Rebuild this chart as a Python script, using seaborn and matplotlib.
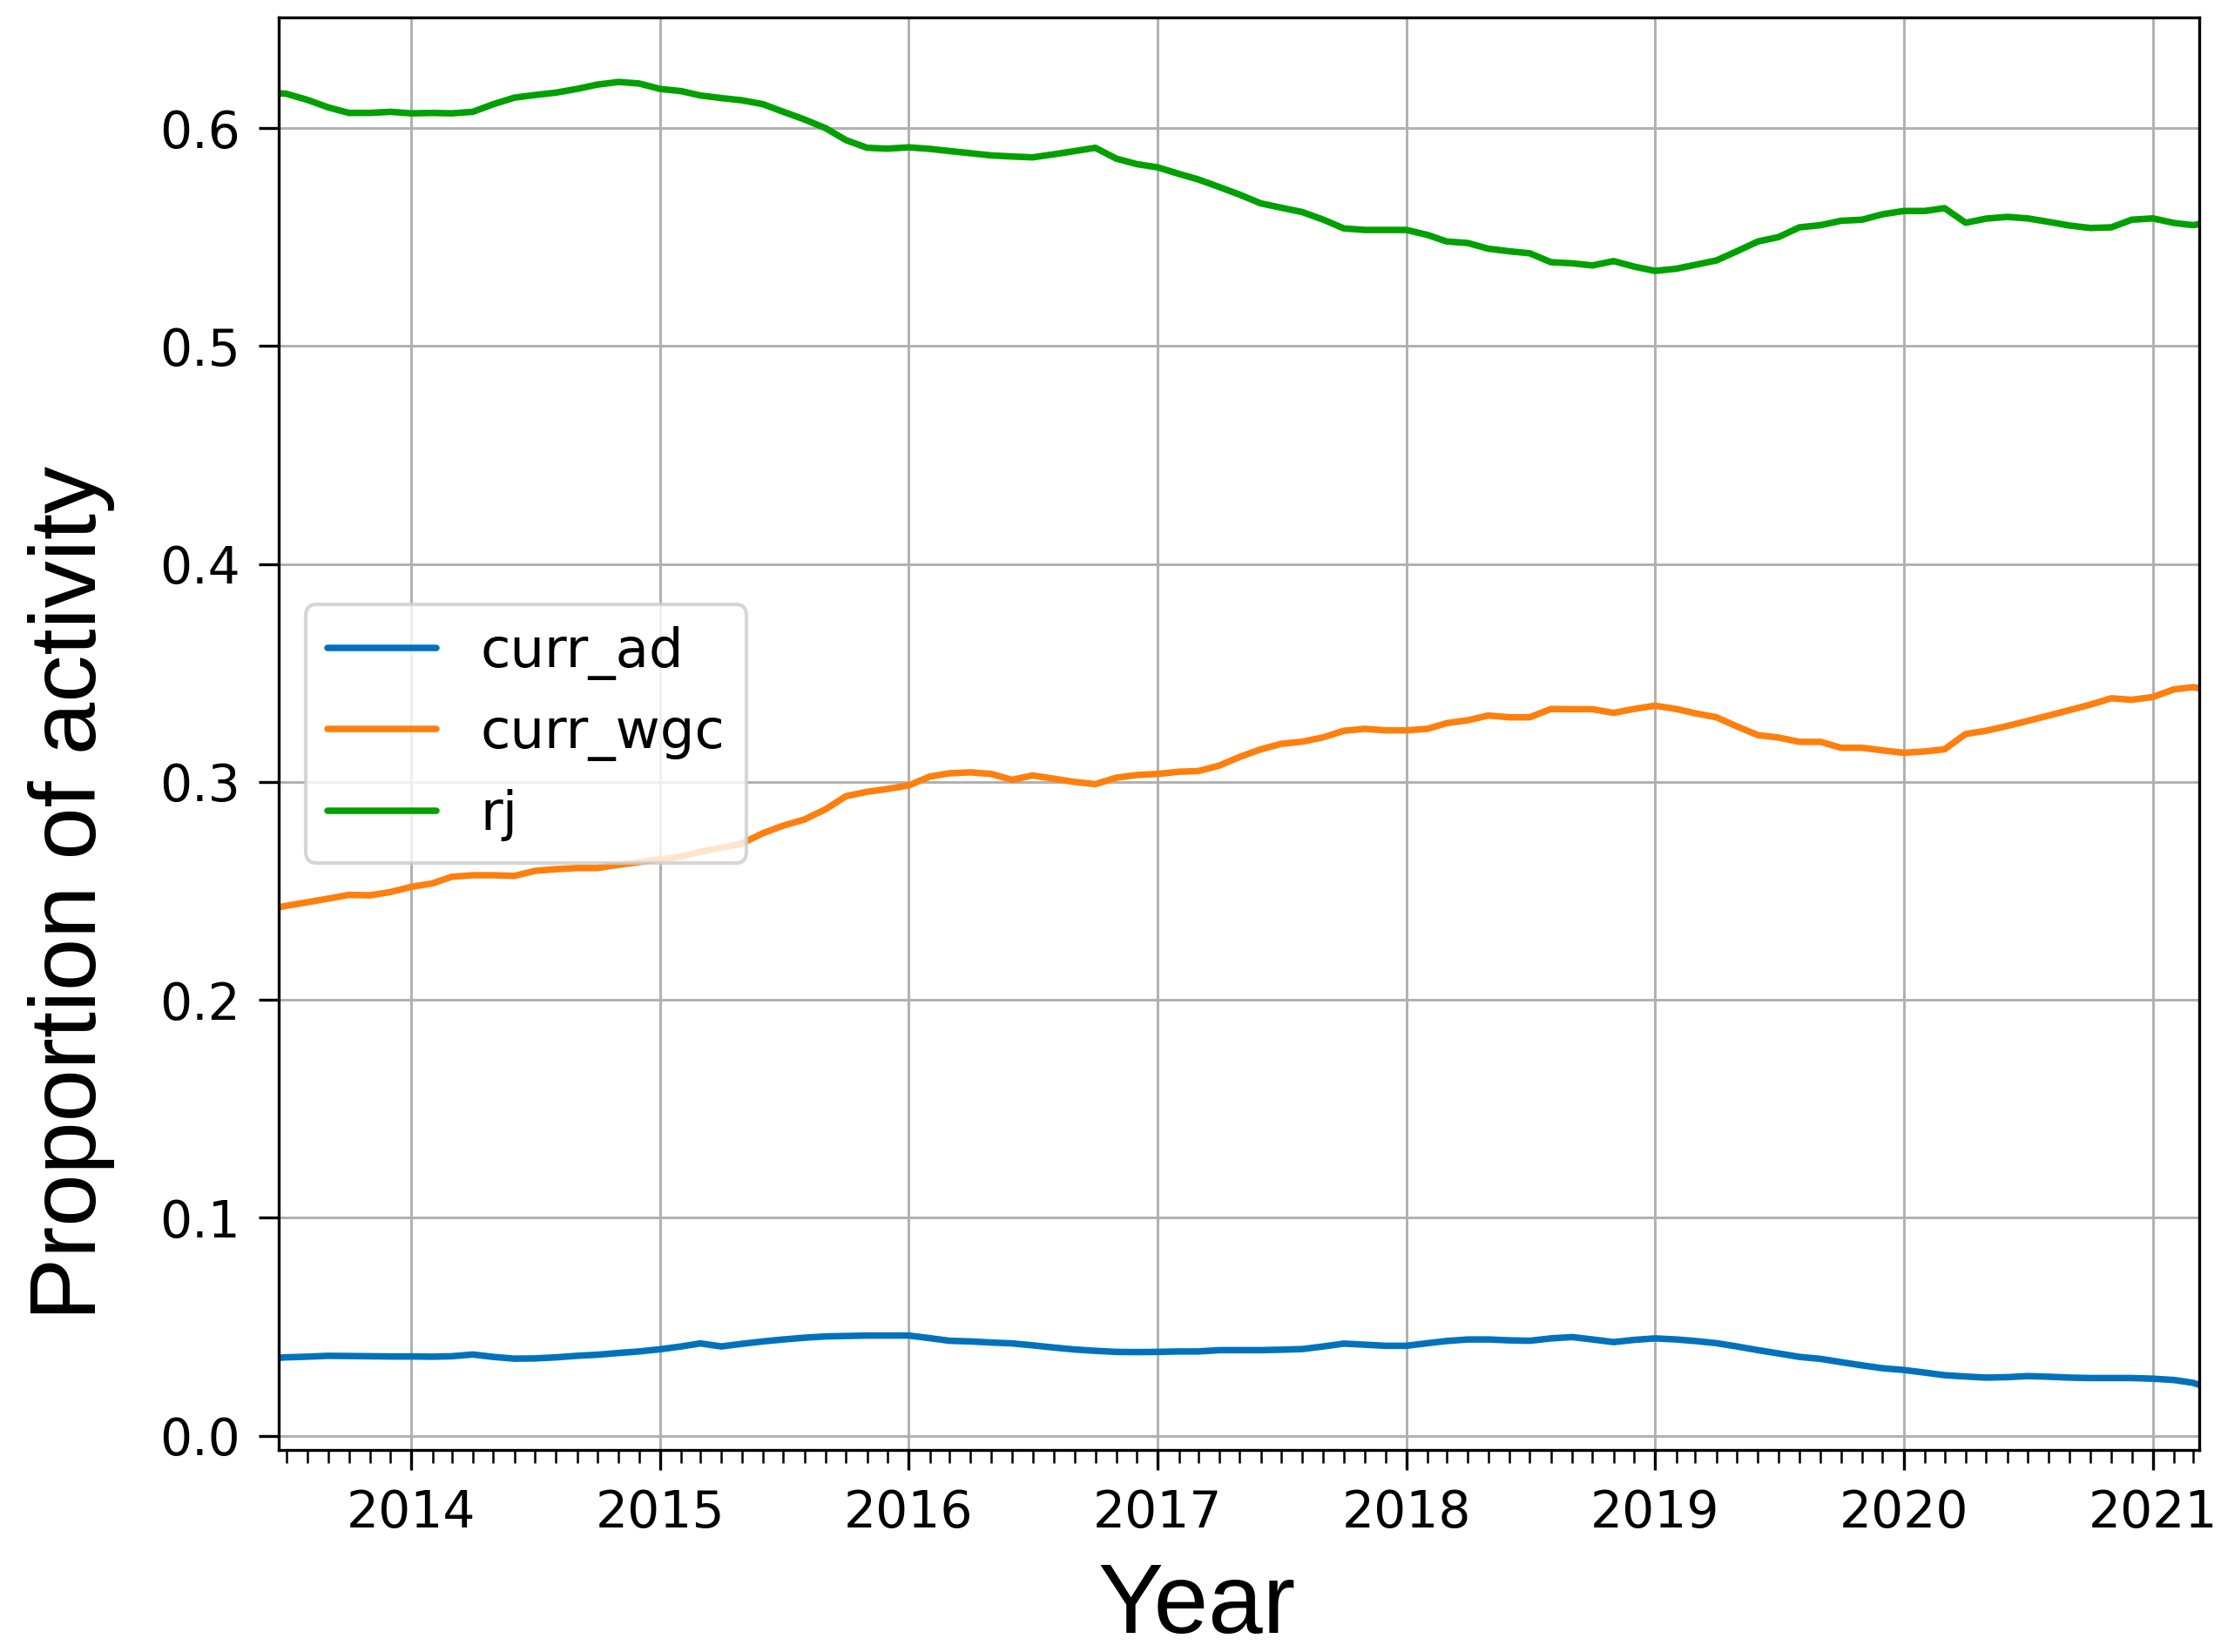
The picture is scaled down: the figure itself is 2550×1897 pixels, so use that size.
import numpy as np
import pandas as pd
import seaborn as sns
import matplotlib
matplotlib.use("Agg")
from matplotlib import pyplot as plt
import matplotlib.dates as mdates

# dates: first sample, monthly samples, last sample
dates = ([pd.Timestamp("2013-06-20")]
         + list(pd.date_range("2013-07-01", "2021-03-01", freq="MS"))
         + [pd.Timestamp("2021-03-10")])

# values, one row per year
curr_ad = [
    0.0358, 0.0360, 0.0363, 0.0367, 0.0366, 0.0365, 0.0364,                  # 2013
    0.0364, 0.0363, 0.0365, 0.0373, 0.0362, 0.0354, 0.0355, 0.0360, 0.0367, 0.0372, 0.0380, 0.0387,
    0.0397, 0.0410, 0.0424, 0.0410, 0.0422, 0.0433, 0.0442, 0.0450, 0.0456, 0.0458, 0.0460, 0.0460,
    0.0460, 0.0448, 0.0436, 0.0433, 0.0428, 0.0424, 0.0415, 0.0405, 0.0396, 0.0390, 0.0385, 0.0384,
    0.0385, 0.0387, 0.0387, 0.0393, 0.0393, 0.0393, 0.0395, 0.0398, 0.0410, 0.0423, 0.0418, 0.0413,
    0.0413, 0.0425, 0.0435, 0.0442, 0.0442, 0.0438, 0.0436, 0.0447, 0.0453, 0.0442, 0.0430, 0.0440,
    0.0447, 0.0442, 0.0435, 0.0425, 0.0410, 0.0393, 0.0378, 0.0362, 0.0353, 0.0338, 0.0323, 0.0310,
    0.0302, 0.0290, 0.0278, 0.0272, 0.0267, 0.0269, 0.0274, 0.0271, 0.0267, 0.0265, 0.0265, 0.0265,
    0.0262, 0.0256, 0.0243, 0.0234,                                          # 2021
]
curr_wgc = [
    0.2425, 0.2432, 0.2448, 0.2465, 0.2482, 0.2480, 0.2495,
    0.2519, 0.2535, 0.2565, 0.2572, 0.2572, 0.2569, 0.2592, 0.2600, 0.2605, 0.2605, 0.2620, 0.2632,
    0.2645, 0.2658, 0.2680, 0.2698, 0.2718, 0.2765, 0.2800, 0.2828, 0.2875, 0.2935, 0.2955, 0.2968,
    0.2984, 0.3025, 0.3040, 0.3044, 0.3037, 0.3010, 0.3030, 0.3015, 0.3000, 0.2990, 0.3020, 0.3032,
    0.3037, 0.3047, 0.3050, 0.3075, 0.3115, 0.3150, 0.3175, 0.3185, 0.3205, 0.3235, 0.3244, 0.3237,
    0.3237, 0.3244, 0.3270, 0.3283, 0.3305, 0.3297, 0.3297, 0.3335, 0.3334, 0.3334, 0.3317, 0.3335,
    0.3350, 0.3335, 0.3315, 0.3297, 0.3255, 0.3215, 0.3204, 0.3184, 0.3184, 0.3157, 0.3157, 0.3145,
    0.3134, 0.3140, 0.3150, 0.3220, 0.3235, 0.3257, 0.3280, 0.3305, 0.3330, 0.3355, 0.3384, 0.3377,
    0.3390, 0.3425, 0.3435, 0.3430,
]
rj = [
    0.6160, 0.6158, 0.6130, 0.6095, 0.6070, 0.6070, 0.6075,
    0.6068, 0.6070, 0.6068, 0.6075, 0.6110, 0.6140, 0.6152, 0.6163, 0.6180, 0.6200, 0.6212, 0.6205,
    0.6180, 0.6170, 0.6150, 0.6138, 0.6128, 0.6110, 0.6075, 0.6040, 0.6000, 0.5945, 0.5910, 0.5906,
    0.5912, 0.5905, 0.5895, 0.5885, 0.5875, 0.5870, 0.5866, 0.5880, 0.5895, 0.5910, 0.5860, 0.5835,
    0.5820, 0.5790, 0.5765, 0.5730, 0.5695, 0.5655, 0.5635, 0.5615, 0.5580, 0.5540, 0.5533, 0.5533,
    0.5533, 0.5510, 0.5480, 0.5473, 0.5447, 0.5435, 0.5426, 0.5385, 0.5380, 0.5370, 0.5390, 0.5365,
    0.5345, 0.5355, 0.5373, 0.5393, 0.5435, 0.5480, 0.5500, 0.5545, 0.5555, 0.5575, 0.5580, 0.5605,
    0.5620, 0.5620, 0.5633, 0.5566, 0.5585, 0.5593, 0.5586, 0.5570, 0.5553, 0.5542, 0.5545, 0.5580,
    0.5586, 0.5565, 0.5555, 0.5560,
]
series_names = ["curr_ad", "curr_wgc", "rj"]
colors = ["#0072bd", "#ff7f0e", "#00a000"]

assert len(dates) == len(curr_ad) == len(curr_wgc) == len(rj)

df = pd.DataFrame({"date": dates, "curr_ad": curr_ad,
                   "curr_wgc": curr_wgc, "rj": rj})
long_df = df.melt(id_vars="date", var_name="series", value_name="value")

sns.set_style("ticks")
plt.rcParams["font.family"] = ["DejaVu Sans"]
plt.rcParams.update({"text.color": "black", "axes.labelcolor": "black",
                     "xtick.color": "black", "ytick.color": "black"})

fig = plt.figure(figsize=(8.5, 1897 / 300), dpi=300)
ax = fig.add_axes([0.1255, 0.1223, 0.8647, 0.8674])

sns.lineplot(data=long_df, x="date", y="value", hue="series",
             hue_order=series_names, palette=dict(zip(series_names, colors)),
             linewidth=1.8, ax=ax)

ax.set_xlim(dates[0], dates[-1])
ax.set_ylim(-0.0065, 0.651)
ax.set_yticks(np.arange(0, 0.61, 0.1))
ax.yaxis.set_major_formatter(matplotlib.ticker.FormatStrFormatter("%.1f"))
ax.xaxis.set_major_locator(mdates.YearLocator())
ax.xaxis.set_minor_locator(mdates.MonthLocator())
ax.xaxis.set_major_formatter(mdates.DateFormatter("%Y"))

ax.grid(True, which="major", color="#b0b0b0", linewidth=0.7)
for s in ax.spines.values():
    s.set_visible(True)
    s.set_color("black")
    s.set_linewidth(0.8)
ax.tick_params(axis="both", which="major", labelsize=14, length=5.5,
               width=0.8, color="black", labelcolor="black", pad=5,
               direction="out")
ax.tick_params(axis="x", which="minor", length=3.5, width=0.6,
               color="black", direction="out")

ax.set_xlabel("Year", fontsize=27, family=["Liberation Sans", "DejaVu Sans"])
ax.xaxis.set_label_coords(0.478, -0.110)
ax.xaxis.label.set_va("center")
ax.set_ylabel("Proportion of activity", fontsize=26,
              family=["Liberation Sans", "DejaVu Sans"])
ax.yaxis.set_label_coords(-0.108, 0.389)
ax.yaxis.label.set_va("center")

sns.move_legend(ax, "center left", title=None, fontsize=15,
                frameon=True, framealpha=0.8, edgecolor="#cccccc",
                fancybox=True, handlelength=2.0)
for t in ax.get_legend().get_texts():
    t.set_color("black")

fig.savefig("out.png", dpi=300)
